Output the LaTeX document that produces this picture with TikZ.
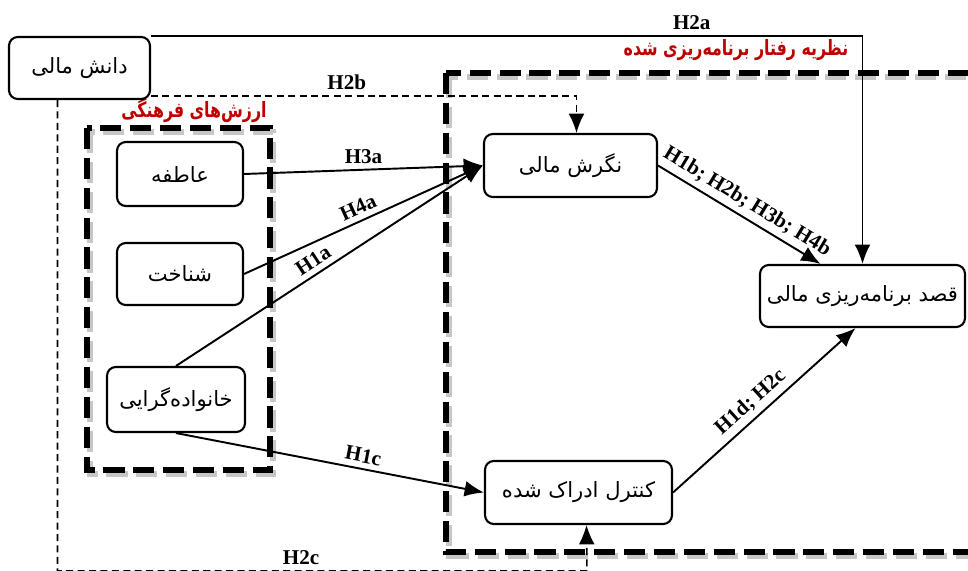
\documentclass[tikz,border=0pt]{standalone}
\usepackage{fontspec}
\setmainfont{Liberation Serif}
\newfontfamily\fafont[Script=Arabic]{DejaVu Sans}
\TeXXeTstate=1
\usetikzlibrary{arrows.meta, calc}
\definecolor{titlered}{RGB}{192,0,0}

\begin{document}
\begin{tikzpicture}[>={Latex[length=11pt, width=9pt]}, x=0.02cm, y=-0.02cm,
    box/.style={draw, rounded corners=5pt, line width=1.2pt,
                font=\fafont\fontsize{12}{14}\selectfont, inner sep=0pt},
    link/.style={->, line width=1.1pt},
    dlink/.style={->, line width=0.9pt, dash pattern=on 4pt off 2.5pt},
    hyp/.style={font=\bfseries\fontsize{12}{14}\selectfont, inner sep=3pt},
    grouptitle/.style={font=\fafont\bfseries\fontsize{12}{14}\selectfont, text=titlered,
                       xscale=0.75, transform shape},
    frame/.style={line width=3.6pt, dash pattern=on 12pt off 5pt},
    frameshadow/.style={frame, black!22}]
  \useasboundingbox (0,0) rectangle (968,571);
  \clip (0,0) rectangle (968,571);

  % Frames with shadow
  \draw[frameshadow] (90,132) rectangle (273,474);
  \draw[frame] (87,128) rectangle (270,470);
  \draw[frameshadow] (449,77) rectangle (990,556);
  \draw[frame] (446,73) rectangle (990,552);

  % Frame titles
  \node[grouptitle] (culttitle) at (194,110) {\beginR ارزش‌های فرهنگی\endR};
  \node[grouptitle] (tpbtitle) at (736,50) {\beginR نظریه رفتار برنامه‌ریزی شده\endR};

  % Constructs
  \node[box, minimum width=2.82cm, minimum height=1.24cm] (know) at (79.5,68) {\beginR دانش مالی\endR};
  \node[box, minimum width=2.52cm, minimum height=1.28cm] (affect) at (180,174) {\beginR عاطفه\endR};
  \node[box, minimum width=2.52cm, minimum height=1.24cm] (cognit) at (180,274) {\beginR شناخت\endR};
  \node[box, minimum width=2.76cm, minimum height=1.30cm] (family) at (176,399.5) {\beginR خانواده‌گرایی\endR};
  \node[box, minimum width=3.46cm, minimum height=1.26cm] (attit) at (570.5,165.5) {\beginR نگرش مالی\endR};
  \node[box, minimum width=4.10cm, minimum height=1.24cm] (intent) at (862.5,296) {\beginR قصد برنامه‌ریزی مالی\endR};
  \node[box, minimum width=3.74cm, minimum height=1.26cm] (control) at (578.5,492.5) {\beginR کنترل ادراک شده\endR};

  % Paths into attitude
  \draw[link] (affect.east) -- node[hyp, above] (h3a) {H3a} (attit.west);
  \draw[link] (cognit.east) -- node[hyp, above, sloped] (h4a) {H4a} (attit.west);
  \draw[link] (family.north) -- node[hyp, above, sloped, pos=0.47] (h1a) {H1a} (attit.west);
  \draw[link] (family.south) -- node[hyp, above, sloped, pos=0.6] (h1c) {H1c} (control.west);

  % Paths into intention
  \draw[link] (attit.east) -- node[hyp, above, sloped] (h1b) {H1b; H2b; H3b; H4b} ($(intent.north)+(-42,0)$);
  \draw[link] (control.east) -- node[hyp, above, sloped, pos=0.48] (h1d) {H1d; H2c} ($(intent.south)+(-7,0)$);

  % Financial knowledge paths
  \draw[link] (know.north east) -| node[hyp, above, pos=0.38] (h2a) {H2a} (intent.north);
  \draw[dlink] ($(know.south east)+(0,-4)$) -| node[hyp, above, pos=0.23] (h2b) {H2b} ($(attit.north)+(6,0)$);
  \coordinate (h2cturn) at (587,571);
  \draw[dlink] ($(know.south)+(-22,0)$) |- node[hyp, above, pos=0.73] (h2c) {H2c} (h2cturn) -- ($(control.south)+(8,0)$);
\end{tikzpicture}
\end{document}
